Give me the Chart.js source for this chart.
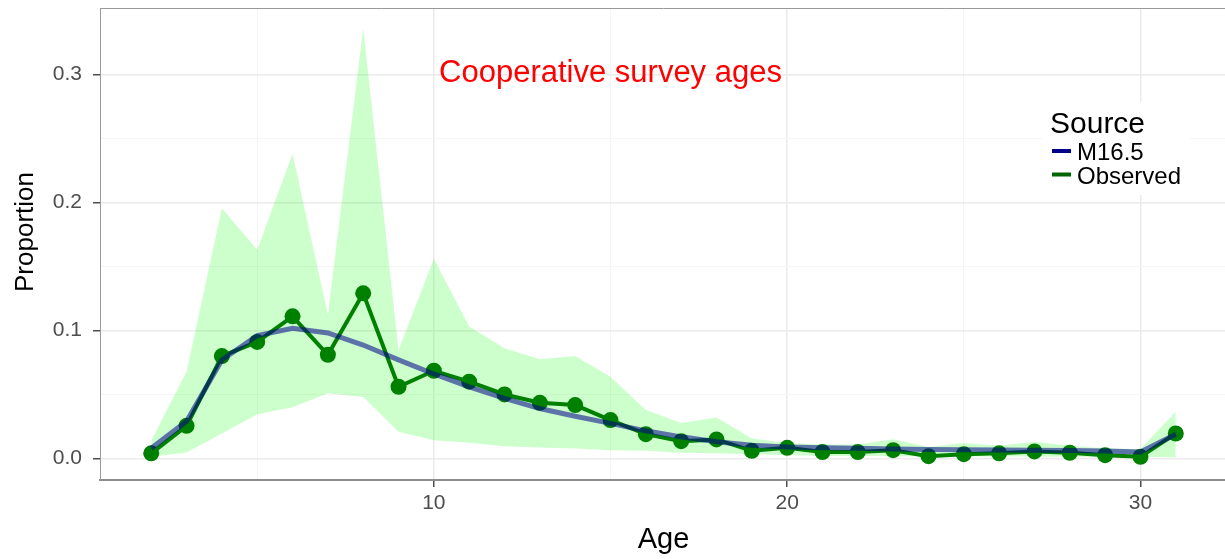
<!DOCTYPE html>
<html>
<head>
<meta charset="utf-8">
<title>Cooperative survey ages</title>
<script src="https://cdn.jsdelivr.net/npm/chart.js@4/dist/chart.umd.min.js"></script>
<style>
    html, body { margin: 0; padding: 0; background: #fff; overflow: hidden; }
    .chart-container { position: relative; width: 1235px; height: 559px; }
</style>
</head>
<body>
<div class="chart-container">
    <canvas id="ageChart"></canvas>
</div>
<script>
// Ages 2..31
const ages = [2, 3, 4, 5, 6, 7, 8, 9, 10, 11, 12, 13, 14, 15, 16, 17, 18, 19, 20, 21, 22, 23, 24, 25, 26, 27, 28, 29, 30, 31];

const observed = [0.004, 0.0255, 0.080, 0.091, 0.111, 0.081, 0.129, 0.056, 0.0685, 0.060,
    0.050, 0.0435, 0.0417, 0.030, 0.019, 0.0135, 0.0149, 0.006, 0.0083, 0.005,
    0.005, 0.0065, 0.0018, 0.0034, 0.004, 0.0055, 0.0045, 0.0026, 0.0013, 0.0195];

const modelM165 = [0.008, 0.029, 0.077, 0.096, 0.1016, 0.098, 0.0886, 0.077, 0.066, 0.056,
    0.047, 0.039, 0.033, 0.0274, 0.0216, 0.0169, 0.013, 0.0104, 0.009, 0.0083,
    0.008, 0.0075, 0.007, 0.0068, 0.0066, 0.0064, 0.0062, 0.0058, 0.005, 0.019];

const bandUpper = [0.014, 0.068, 0.1955, 0.163, 0.238, 0.112, 0.336, 0.0847, 0.156, 0.103,
    0.086, 0.0774, 0.080, 0.0638, 0.0378, 0.0278, 0.032, 0.0156, 0.012, 0.011,
    0.011, 0.015, 0.009, 0.012, 0.010, 0.013, 0.010, 0.008, 0.0075, 0.0365];

const bandLower = [0.0013, 0.0047, 0.0195, 0.0346, 0.040, 0.051, 0.048, 0.0208, 0.0143, 0.0122,
    0.0096, 0.0086, 0.0078, 0.0065, 0.006, 0.0044, 0.004, 0.0033, 0.0028, 0.002,
    0.002, 0.0018, 0.0015, 0.0015, 0.0015, 0.0015, 0.0013, 0.0013, 0.0013, 0.001];

// Axis ticks (major get labels, minor only grid lines)
const xMajorTicks = [10, 20, 30];
const xMinorTicks = [5, 15, 25];
const yMajorTicks = [0, 0.1, 0.2, 0.3];
const yMinorTicks = [0.05, 0.15, 0.25];

const annotationText = 'Cooperative survey ages';
const legendTitle = 'Source';
const legendItems = [
    { label: 'M16.5', color: '#00008B' },
    { label: 'Observed', color: '#006400' }
];

const FONT = "'Liberation Sans', Arial, sans-serif";

const toPoints = (values) => values.map((v, i) => ({ x: ages[i], y: v }));
const isMajor = (list, v) => list.some(t => Math.abs(t - v) < 1e-9);

/**
 * Draws panel border, annotation, axis titles and the legend box
 */
const decorations = {
    id: 'decorations',
    afterDraw(chart) {
        const { ctx, chartArea, scales } = chart;
        ctx.save();

        // top panel border
        ctx.strokeStyle = '#999999';
        ctx.lineWidth = 1;
        ctx.beginPath();
        ctx.moveTo(chartArea.left, chartArea.top + 0.5);
        ctx.lineTo(chartArea.right, chartArea.top + 0.5);
        ctx.stroke();

        // annotation
        ctx.fillStyle = '#FF0000';
        ctx.font = `31px ${FONT}`;
        ctx.textAlign = 'center';
        ctx.textBaseline = 'alphabetic';
        ctx.fillText(annotationText, scales.x.getPixelForValue(15), scales.y.getPixelForValue(0.3) + 8);

        // x title
        ctx.fillStyle = '#000000';
        ctx.font = `29px ${FONT}`;
        ctx.fillText('Age', (chartArea.left + chartArea.right) / 2, 548);

        // y title
        ctx.save();
        ctx.translate(33, 232);
        ctx.rotate(-Math.PI / 2);
        ctx.font = `26px ${FONT}`;
        ctx.fillText('Proportion', 0, 0);
        ctx.restore();

        // legend
        ctx.fillStyle = '#FFFFFF';
        ctx.fillRect(1042, 102, 148, 93);
        ctx.fillStyle = '#000000';
        ctx.textAlign = 'left';
        ctx.font = `30px ${FONT}`;
        ctx.fillText(legendTitle, 1050, 133);
        ctx.font = `24px ${FONT}`;
        legendItems.forEach((item, i) => {
            const cy = 151 + i * 23.5;
            ctx.fillStyle = item.color;
            ctx.fillRect(1052, cy - 2, 19, 4);
            ctx.fillStyle = '#000000';
            ctx.fillText(item.label, 1077, cy + 9);
        });

        ctx.restore();
    }
};

const ctx = document.getElementById('ageChart').getContext('2d');

new Chart(ctx, {
    type: 'line',
    data: {
        datasets: [
            {
                label: 'M16.5',
                data: toPoints(modelM165),
                borderColor: 'rgba(0, 0, 139, 0.55)',
                borderWidth: 5,
                pointRadius: 0,
                fill: false,
                order: 0
            },
            {
                label: 'Observed',
                data: toPoints(observed),
                borderColor: '#008000',
                backgroundColor: '#008000',
                borderWidth: 4,
                pointRadius: 8,
                pointBorderWidth: 0,
                fill: false,
                order: 1
            },
            {
                label: 'lower',
                data: toPoints(bandLower),
                borderWidth: 0,
                pointRadius: 0,
                fill: false,
                order: 2
            },
            {
                label: 'upper',
                data: toPoints(bandUpper),
                borderWidth: 0,
                pointRadius: 0,
                backgroundColor: 'rgba(0, 255, 0, 0.2)',
                fill: '-1',
                order: 3
            }
        ]
    },
    options: {
        responsive: true,
        maintainAspectRatio: false,
        animation: false,
        layout: {
            padding: { top: 7, right: 6, left: 0, bottom: 0 }
        },
        plugins: {
            legend: { display: false },
            tooltip: { enabled: false }
        },
        scales: {
            x: {
                type: 'linear',
                min: 0.55,
                max: 32.45,
                afterBuildTicks: (scale) => {
                    scale.ticks = [...xMinorTicks, ...xMajorTicks].sort((a, b) => a - b).map(v => ({ value: v }));
                },
                afterFit: (scale) => {
                    scale.height = 79;
                    scale.paddingLeft = 0;
                    scale.paddingRight = 0;
                },
                grid: {
                    color: (c) => c.tick && isMajor(xMajorTicks, c.tick.value) ? '#EBEBEB' : '#F5F5F5',
                    lineWidth: (c) => c.tick && isMajor(xMajorTicks, c.tick.value) ? 1.5 : 1,
                    tickColor: (c) => c.tick && isMajor(xMajorTicks, c.tick.value) ? '#4D4D4D' : 'rgba(0,0,0,0)',
                    tickLength: 7,
                    tickWidth: 1.5
                },
                border: { color: '#8C8C8C', width: 2 },
                ticks: {
                    padding: 4,
                    color: '#4D4D4D',
                    font: { family: FONT, size: 21 },
                    maxRotation: 0,
                    autoSkip: false,
                    callback: (value) => isMajor(xMajorTicks, value) ? String(value) : ''
                }
            },
            y: {
                type: 'linear',
                min: -0.0168,
                max: 0.3518,
                afterBuildTicks: (scale) => {
                    scale.ticks = [...yMinorTicks, ...yMajorTicks].sort((a, b) => a - b).map(v => ({ value: v }));
                },
                afterFit: (scale) => {
                    scale.width = 100;
                    scale.paddingTop = 0;
                    scale.paddingBottom = 0;
                },
                grid: {
                    color: (c) => c.tick && isMajor(yMajorTicks, c.tick.value) ? '#EBEBEB' : '#F5F5F5',
                    lineWidth: (c) => c.tick && isMajor(yMajorTicks, c.tick.value) ? 1.5 : 1,
                    tickColor: (c) => c.tick && isMajor(yMajorTicks, c.tick.value) ? '#4D4D4D' : 'rgba(0,0,0,0)',
                    tickLength: 7,
                    tickWidth: 1.5
                },
                border: { color: '#999999', width: 1 },
                ticks: {
                    padding: 11,
                    color: '#4D4D4D',
                    font: { family: FONT, size: 21 },
                    autoSkip: false,
                    callback: (value) => isMajor(yMajorTicks, value) ? value.toFixed(1) : ''
                }
            }
        }
    },
    plugins: [decorations]
});
</script>
</body>
</html>
